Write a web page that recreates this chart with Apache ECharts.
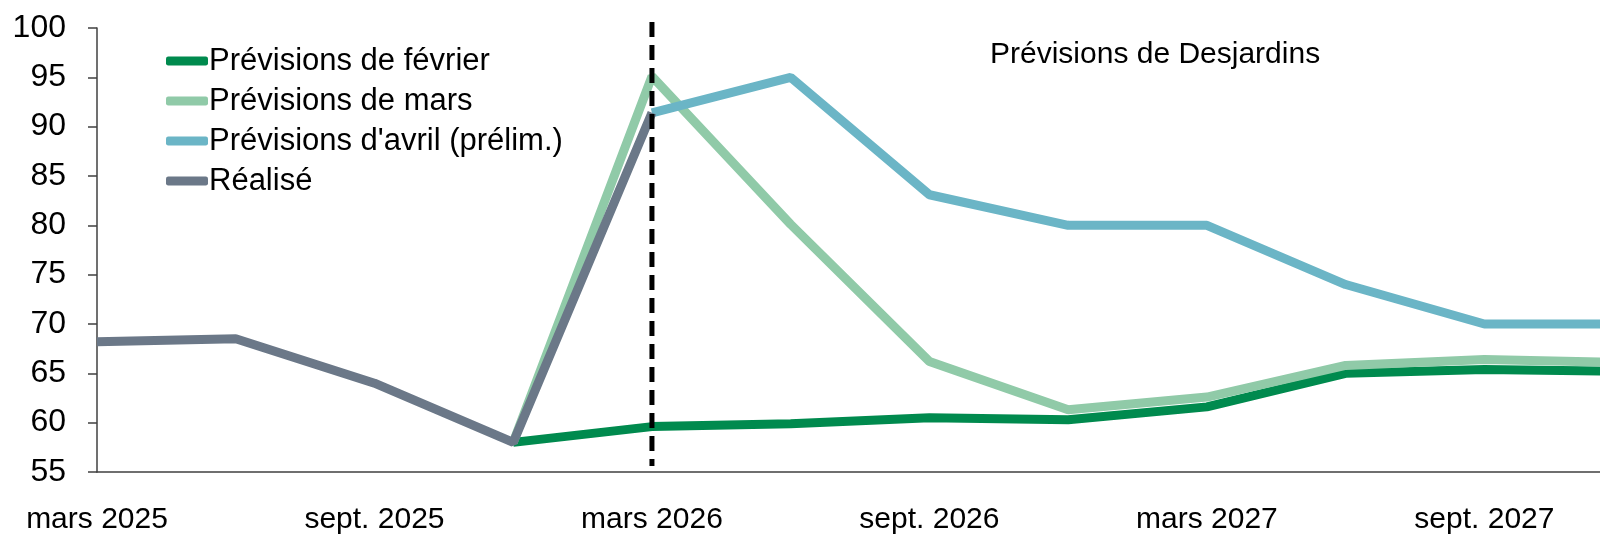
<!DOCTYPE html>
<html style="height: 100%">
<head>
<meta charset="utf-8">
</head>
<body style="height: 100%; margin: 0">
<div id="container" style="width: 1600px; height: 534px"></div>
<script type="text/javascript" src="https://cdn.jsdelivr.net/npm/echarts@6/dist/echarts.min.js"></script>
<script type="text/javascript">
// quarters, one point every 3 months starting mars 2025
var quarters = ['mars 2025', 'juin 2025', 'sept. 2025', 'déc. 2025', 'mars 2026', 'juin 2026',
    'sept. 2026', 'déc. 2026', 'mars 2027', 'juin 2027', 'sept. 2027', 'déc. 2027'];
var xLabels = ['mars 2025', 'sept. 2025', 'mars 2026', 'sept. 2026', 'mars 2027', 'sept. 2027'];

var fevrier = [null, null, null, 58.0, 59.6, 59.9, 60.5, 60.3, 61.6, 65.0, 65.4, 65.2];
var mars = [null, null, null, 58.0, 95.1, 80.1, 66.2, 61.3, 62.6, 65.8, 66.4, 66.1];
var avril = [null, null, null, null, 91.4, 95.0, 83.1, 80.0, 80.0, 74.0, 70.0, 70.0];
var realise = [68.2, 68.5, 64.0, 58.0, 91.4, null, null, null, null, null, null, null];

// vertical dashed separator at mars 2026 (quarter index 4)
var separatorQuarter = 4;
var separatorRange = [100.6, 55.6];

var dom = document.getElementById('container');
var myChart = echarts.init(dom);
var font = 'Liberation Sans';

function toPairs(values) {
    var out = [];
    for (var i = 0; i < values.length; i++) {
        if (values[i] != null) out.push([i * 3, values[i]]);
    }
    return out;
}

function lineSeries(name, values, color) {
    return {
        name: name,
        type: 'line',
        data: toPairs(values),
        symbol: 'none',
        lineStyle: { width: 9, color: color },
        itemStyle: { color: color },
        animation: false
    };
}

var option = {
    backgroundColor: '#fff',
    textStyle: { fontFamily: font },
    title: {
        text: 'Prévisions de Desjardins',
        left: 985,
        top: 35,
        textStyle: { fontFamily: font, fontSize: 30, fontWeight: 'normal', color: '#000' }
    },
    legend: {
        orient: 'vertical',
        left: 161,
        top: 39,
        itemWidth: 42,
        itemHeight: 9,
        itemGap: 6,
        icon: 'roundRect',
        data: ['Prévisions de février', 'Prévisions de mars', "Prévisions d'avril (prélim.)", 'Réalisé'],
        textStyle: { fontFamily: font, fontSize: 31, color: '#000', lineHeight: 34, padding: [0, 0, 0, -4] }
    },
    grid: { left: 97, right: 0, top: 28, bottom: 62, outerBoundsMode: 'none' },
    xAxis: {
        type: 'value',
        min: 0,
        max: 32.5,
        interval: 6,
        axisLine: { lineStyle: { color: '#404040', width: 1.5 } },
        axisTick: { show: false },
        splitLine: { show: false },
        axisLabel: {
            margin: 33,
            fontFamily: font,
            fontSize: 30,
            color: '#000',
            formatter: function (v) {
                return v % 6 === 0 ? (xLabels[v / 6] || '') : '';
            }
        }
    },
    yAxis: {
        type: 'value',
        min: 55,
        max: 100,
        interval: 5,
        axisLine: { show: true, lineStyle: { color: '#404040', width: 1.5 } },
        axisTick: { show: true, length: 9, lineStyle: { color: '#404040', width: 1.5 } },
        splitLine: { show: false },
        axisLabel: { margin: 31, fontFamily: font, fontSize: 32, color: '#000' }
    },
    series: [
        lineSeries('Prévisions de février', fevrier, '#008A4E'),
        lineSeries('Prévisions de mars', mars, '#90CAA8'),
        lineSeries("Prévisions d'avril (prélim.)", avril, '#6BB5C6'),
        lineSeries('Réalisé', realise, '#6B7888'),
        {
            name: 'séparateur',
            type: 'line',
            data: [[separatorQuarter * 3, separatorRange[0]], [separatorQuarter * 3, separatorRange[1]]],
            clip: false,
            symbol: 'none',
            silent: true,
            animation: false,
            z: 5,
            lineStyle: { color: '#000', width: 5, type: [15, 8] }
        }
    ]
};

if (option && typeof option === 'object') {
    myChart.setOption(option);
}
</script>
</body>
</html>
